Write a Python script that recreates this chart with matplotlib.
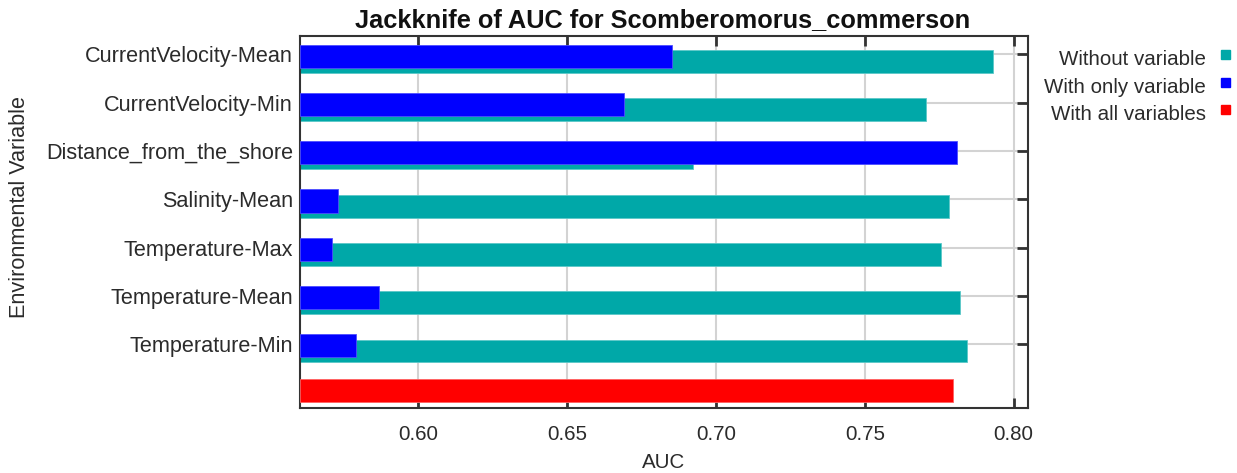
import matplotlib
matplotlib.use("Agg")
import matplotlib.pyplot as plt
from matplotlib.patches import Rectangle
import numpy as np

variables = [
    "CurrentVelocity-Mean",
    "CurrentVelocity-Min",
    "Distance_from_the_shore",
    "Salinity-Mean",
    "Temperature-Max",
    "Temperature-Mean",
    "Temperature-Min",
]
auc_without = [0.7930, 0.7705, 0.6922, 0.7784, 0.7755, 0.7819, 0.7843]
auc_only = [0.6852, 0.6690, 0.7810, 0.5732, 0.5710, 0.5870, 0.5792]
auc_all = 0.7795

x_ticks = [0.60, 0.65, 0.70, 0.75, 0.80]
x_tick_labels = ["0.60", "0.65", "0.70", "0.75", "0.80"]
legend_labels = ["Without variable", "With only variable", "With all variables"]

TEAL = "#00a8a8"
BLUE = "#0000ff"
RED = "#ff0000"
TEXT = "#2b2b2b"
FRAME = "#333333"
GRID = "#d3d3d3"

plt.rcParams["font.family"] = ["Liberation Sans", "DejaVu Sans"]
FS = 14.8
FS_Y = 15.6

W, H = 1237, 473
fig = plt.figure(figsize=(W / 100, H / 100), dpi=100)
ax = fig.add_axes([300 / W, 1 - 408.3 / H, (1028.3 - 300) / W, (408.3 - 36) / H])

xmin = 0.5603
ax.set_xlim(xmin, 0.8049)
ax.set_ylim(7.33, -0.38)

rows = np.arange(len(variables))
# "without" bar sits slightly lower, "only" bar drawn on top of it
ax.barh(rows + 0.146, np.array(auc_without) - xmin, left=xmin, height=0.47,
        color=TEAL, edgecolor="#5cc8c8", linewidth=0.6, zorder=2)
ax.barh(rows + 0.037, np.array(auc_only) - xmin, left=xmin, height=0.48,
        color=BLUE, edgecolor="#4d4dff", linewidth=0.6, zorder=3)
ax.barh([len(variables) - 0.034], [auc_all - xmin], left=xmin, height=0.483,
        color=RED, edgecolor="#ff6060", linewidth=0.6, zorder=3)

# grid
for xv in x_ticks:
    ax.axvline(xv, color=GRID, lw=1.5, zorder=1)
for yv in rows:
    ax.axhline(yv, color=GRID, lw=1.5, zorder=1)

ax.set_xticks(x_ticks)
ax.set_xticklabels(x_tick_labels)
ax.set_yticks(rows)
ax.set_yticklabels(variables)
ax.tick_params(axis="x", direction="in", length=7, width=2, color=FRAME,
               top=True, labelsize=FS, labelcolor=TEXT, pad=12)
ax.tick_params(axis="y", direction="in", length=8, width=2, color=FRAME,
               left=False, right=True, labelsize=FS_Y, labelcolor=TEXT, pad=5)
for s in ax.spines.values():
    s.set_color(FRAME)
    s.set_linewidth(1.5)

fig.text(663 / W, 1 - 27.5 / H, "Jackknife of AUC for Scomberomorus_commerson",
         ha="center", va="baseline", fontsize=18.3, fontweight="bold",
         color="#111111")
fig.text(664 / W, 1 - 462 / H, "AUC", ha="center", va="center",
         fontsize=FS, color=TEXT)
fig.text(20 / W, 1 - 207 / H, "Environmental Variable", ha="center",
         va="center", rotation=90, fontsize=FS_Y, color=TEXT)

# legend on the right
colors = [TEAL, BLUE, RED]
baselines = [65, 92.7, 120.3]
for lab, c, b in zip(legend_labels, colors, baselines):
    fig.text(1206 / W, 1 - b / H, lab, ha="right", va="baseline",
             fontsize=FS, color=TEXT)
    sq_top = b - 15
    fig.patches.append(Rectangle((1221 / W, 1 - (sq_top + 9) / H), 9 / W, 9 / H,
                                 transform=fig.transFigure, color=c))

fig.savefig("out.png", dpi=100)
